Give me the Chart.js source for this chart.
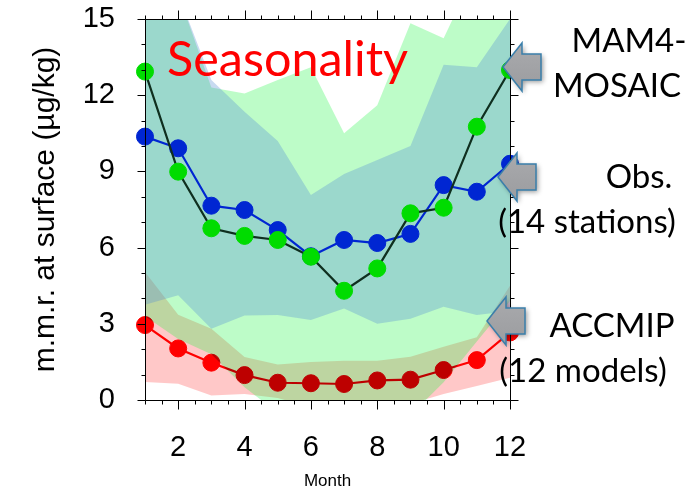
<!DOCTYPE html>
<html><head><meta charset="utf-8">
<script src="https://cdn.jsdelivr.net/npm/chart.js@4.4.1/dist/chart.umd.min.js"></script>
<style>html,body{margin:0;padding:0;background:#fff;}canvas{display:block;}</style>
</head><body>
<canvas id="c" width="685" height="491"></canvas>
<script>
// ---- data ----
const months = [1,2,3,4,5,6,7,8,9,10,11,12];
const mam4   = [12.93, 8.99, 6.76, 6.46, 6.30, 5.64, 4.30, 5.18, 7.35, 7.57, 10.76, 12.99];
const obs    = [10.37, 9.91, 7.65, 7.48, 6.69, 5.66, 6.30, 6.18, 6.54, 8.46, 8.20, 9.30];
const accmip = [2.95, 2.03, 1.47, 0.98, 0.68, 0.66, 0.63, 0.77, 0.80, 1.18, 1.57, 2.66];
const obsHi  = [17.0, 16.0, 12.6, 11.35, 10.2, 8.07, 8.9, 9.45, 10.0, 13.2, 13.1, 15.0];
const obsLo  = [3.75, 4.12, 2.81, 3.33, 3.35, 3.15, 3.6, 3.0, 3.2, 3.67, 3.35, 3.5];
const mam4Hi = [17.0, 16.0, 12.3, 12.07, 12.6, 13.1, 10.5, 11.6, 14.83, 14.24, 17.0, 18.0];
const mam4Lo = [3.3, 2.4, 1.8, 0.5, -0.5, -0.6, -0.6, -0.6, -0.6, 0.7, 2.3, 3.9];
const accHi  = [5.04, 3.36, 2.81, 1.69, 1.4, 1.5, 1.55, 1.55, 1.7, 2.1, 2.47, 4.5];
const accLo  = [0.71, 0.64, 0.18, 0.24, 0.08, -0.3, -0.3, -0.3, -0.15, 0.24, 0.55, 0.88];
const xTicks = [2,4,6,8,10,12];
const yTicks = [0,3,6,9,12,15];
const yTitle = 'm.m.r. at surface (\u00b5g/kg)';
const xTitle = 'Month';
const headline = 'Seasonality';
const sideLabels = [
  ['MAM4-', 629, 52], ['MOSAIC', 617, 97],
  ['Obs.', 639, 188], ['(14 stations)', 587, 233],
  ['ACCMIP', 612, 337], ['(12 models)', 583, 382]
];

const pts = arr => months.map((m,i) => ({x:m, y:arr[i]}));
const hidden = (arr) => ({data: pts(arr), borderColor:'rgba(0,0,0,0)', borderWidth:1, pointRadius:0, fill:false, order:9, clip:0});
const band = (arr, color, order) => ({data: pts(arr), borderColor:'rgba(0,0,0,0)', borderWidth:1, pointRadius:0, fill:'-1', backgroundColor:color, order, clip:0});
const series = (arr, line, mk, order) => ({data: pts(arr), borderColor:line, borderWidth:2.2, pointRadius:8.5, pointBackgroundColor:mk, pointBorderColor:mk, pointBorderWidth:1, fill:false, order, clip:false});

const bg = { id:'bg', beforeDraw(c){ const x=c.ctx; x.save(); x.fillStyle='#fff'; x.fillRect(0,0,c.width,c.height); x.restore(); } };
const mult = { id:'mult',
  beforeDatasetDraw(c,a){ if(a.index===2){ c.ctx.save(); c.ctx.globalCompositeOperation='multiply'; } },
  afterDatasetDraw(c,a){ if(a.index===2){ c.ctx.restore(); } } };
const frame = { id:'frame', afterDatasetsDraw(c){
  const x=c.ctx, A=c.chartArea, xs=c.scales.x, ys=c.scales.y;
  x.save(); x.strokeStyle='#000'; x.lineWidth=1; x.beginPath();
  const L=Math.round(A.left)+0.5, R=Math.round(A.right)+0.5, T=Math.round(A.top)+0.5, B=Math.round(A.bottom)+0.5;
  x.moveTo(L,T); x.lineTo(R,T); x.lineTo(R,B); x.lineTo(L,B); x.closePath();
  for(let v=0; v<=15; v++){ const p=Math.round(ys.getPixelForValue(v))+0.5; const len = v%3===0?8:4;
    x.moveTo(L,p); x.lineTo(L-len,p); x.moveTo(R,p); x.lineTo(R+len,p); }
  for(let m=1; m<=12.001; m+=0.5){ const p=Math.round(xs.getPixelForValue(m))+0.5; const len=(m%2===0)?9:4;
    x.moveTo(p,B); x.lineTo(p,B+len); x.moveTo(p,T); x.lineTo(p,T-len); }
  x.stroke(); x.restore(); } };
function arrow(x, tx, ty){
  const hl=19, hh=24, sh=13, sl=19;
  x.beginPath(); x.moveTo(tx,ty); x.lineTo(tx+hl,ty-hh); x.lineTo(tx+hl,ty-sh); x.lineTo(tx+hl+sl,ty-sh);
  x.lineTo(tx+hl+sl,ty+sh); x.lineTo(tx+hl,ty+sh); x.lineTo(tx+hl,ty+hh); x.closePath();
  const g=x.createLinearGradient(0,ty-hh,0,ty+hh); g.addColorStop(0,'#a9aaad'); g.addColorStop(1,'#9b9c9f');
  x.save(); x.shadowColor='rgba(0,0,0,0.4)'; x.shadowBlur=5; x.shadowOffsetX=2; x.shadowOffsetY=2;
  x.fillStyle=g; x.fill(); x.restore();
  x.strokeStyle='#3a7fab'; x.lineWidth=1.5; x.stroke();
}
const notes = { id:'notes', afterDraw(c){
  const x=c.ctx; x.save();
  x.fillStyle='#ff0000'; x.font='48.5px Lato'; x.textAlign='left'; x.textBaseline='alphabetic';
  x.fillText(headline, 167, 76);
  arrow(x, 503, 67); arrow(x, 498, 177); arrow(x, 487, 321);
  x.fillStyle='#000'; x.font='33px Lato'; x.textAlign='center';
  sideLabels.forEach(([t,cx,by]) => x.fillText(t, cx, by));
  x.restore(); } };

new Chart(document.getElementById('c'), {
  type:'line',
  data:{ datasets:[
    series(mam4, '#0f2f1f', '#00dc00', 0),
    series(obs, '#0026d2', '#0026d2', 1),
    series(accmip, '#ff0000', '#ff0000', 2),
    hidden(obsLo), band(obsHi, 'rgba(88,143,212,0.33)', 3),
    hidden(mam4Lo), band(mam4Hi, 'rgba(28,245,66,0.29)', 4),
    hidden(accLo), band(accHi, 'rgba(255,0,0,0.216)', 5)
  ]},
  options:{
    responsive:false, animation:false, devicePixelRatio:1,
    elements:{ line:{ tension:0 } },
    layout:{ padding:{ top:19, right:175, left:0, bottom:0 } },
    plugins:{ legend:{display:false}, tooltip:{enabled:false}, filler:{ propagate:false } },
    scales:{
      x:{ type:'linear', min:1, max:12,
        afterBuildTicks: s => { s.ticks = xTicks.map(v => ({value:v})); },
        afterFit: s => { s.height = 91; s.paddingLeft = 0; s.paddingRight = 0; },
        grid:{ display:false, drawTicks:false }, border:{ display:false },
        ticks:{ color:'#000', font:{ family:'Liberation Sans', size:29 }, padding:31, maxRotation:0, autoSkip:false },
        title:{ display:true, text:xTitle, color:'#000', font:{ family:'Liberation Sans', size:17, lineHeight:1 }, padding:{top:1,bottom:1} } },
      y:{ type:'linear', min:0, max:15,
        afterBuildTicks: s => { s.ticks = yTicks.map(v => ({value:v})); },
        afterFit: s => { s.width = 145; s.paddingTop = 0; s.paddingBottom = 0; },
        grid:{ display:false, drawTicks:false }, border:{ display:false },
        ticks:{ color:'#000', font:{ family:'Liberation Sans', size:29 }, padding:30 },
        title:{ display:true, text:yTitle, color:'#000', font:{ family:'Liberation Sans', size:30 }, padding:{top:28,bottom:0} } }
    }
  },
  plugins:[bg, mult, frame, notes]
});
</script>
</body></html>
